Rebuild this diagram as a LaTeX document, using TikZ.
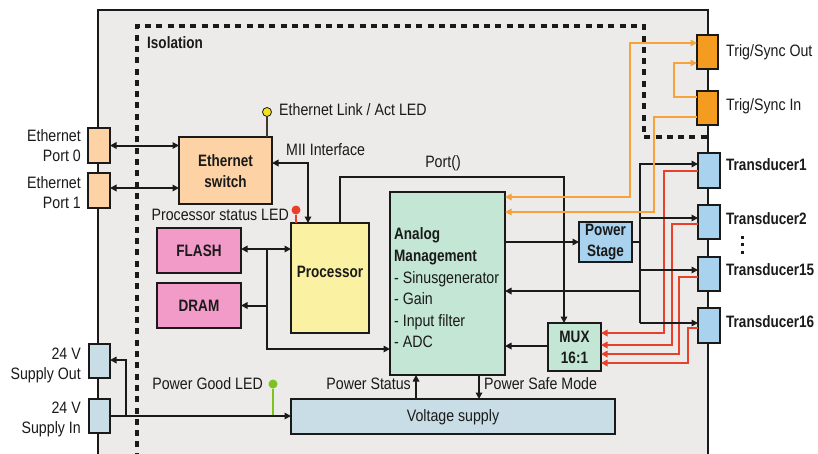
\documentclass[tikz,border=0pt]{standalone}
\usepackage{fontspec}
\setmainfont{Liberation Sans}[FakeStretch=0.86]
\newfontfamily\bfont{Liberation Sans}[FakeStretch=0.82]
\usetikzlibrary{arrows.meta}
\definecolor{bg}{HTML}{EDEBE9}
\definecolor{peach}{HTML}{FDD3A5}
\definecolor{trig}{HTML}{F39C1F}
\definecolor{tblue}{HTML}{A8D2EE}
\definecolor{sblue}{HTML}{C8DDE6}
\definecolor{pink}{HTML}{F29AC8}
\definecolor{pyellow}{HTML}{FAF2A2}
\definecolor{mint}{HTML}{C4E6D4}
\definecolor{oline}{HTML}{F5A33A}
\definecolor{rline}{HTML}{E8412B}
\definecolor{ledgreen}{HTML}{7DC31E}
\definecolor{ledyellow}{HTML}{F2E21A}
\definecolor{txt}{HTML}{1A1A1A}
\begin{document}
\begin{tikzpicture}[x=1pt,y=-1pt,
  >={Triangle[length=6.5pt,width=6.5pt]},
  box/.style={draw=txt, line width=2pt, inner sep=0pt, outer sep=0pt},
  lbl/.style={font=\fontsize{16.5}{20}\selectfont, inner sep=0pt, text=txt},
  blbl/.style={font=\bfont\bfseries\fontsize{16.5}{21}\selectfont, inner sep=0pt, text=txt, align=center},
  conn/.style={line width=2pt, draw=txt},
  oconn/.style={line width=2.2pt, draw=oline},
  rconn/.style={line width=2.3pt, draw=rline}]
\clip (0,0) rectangle (818,453);
\fill[white] (0,0) rectangle (818,453);
% main board
\fill[bg] (98,10) rectangle (708,470);
\draw[line width=2pt, txt] (98,470) -- (98,10) -- (708,10) -- (708,470);
% isolation
\draw[line width=3.5pt, dash pattern=on 6pt off 5.3pt, txt] (137,470) -- (137,26) -- (644,26) -- (644,137) -- (708,137);
\node[blbl, anchor=west] (iso) at (147,43) {Isolation};

% connector ports left
\node[box, fill=peach, minimum width=22pt, minimum height=35pt] (ep0) at (99,145.5) {};
\node[box, fill=peach, minimum width=22pt, minimum height=35pt] (ep1) at (99,190.5) {};
\node[lbl, anchor=east, align=right] (ep0l) at (81,145.5) {Ethernet\\Port 0};
\node[lbl, anchor=east, align=right] (ep1l) at (81,193) {Ethernet\\Port 1};
\node[box, fill=sblue, minimum width=21pt, minimum height=34pt] (so) at (99.5,361) {};
\node[box, fill=sblue, minimum width=21pt, minimum height=34pt] (si) at (99.5,416) {};
\node[lbl, anchor=east, align=right] (sol) at (81,365) {24 V\\Supply Out};
\node[lbl, anchor=east, align=right] (sil) at (81,419) {24 V\\Supply In};

% right connectors
\node[box, fill=trig, minimum width=21pt, minimum height=34pt] (tso) at (707.5,52) {};
\node[box, fill=trig, minimum width=21pt, minimum height=34pt] (tsi) at (707.5,108) {};
\node[lbl, anchor=west] (tsol) at (726,52) {Trig/Sync Out};
\node[lbl, anchor=west] (tsil) at (726,106) {Trig/Sync In};
\node[box, fill=tblue, minimum width=22pt, minimum height=35pt] (t1) at (709,170.5) {};
\node[box, fill=tblue, minimum width=22pt, minimum height=34pt] (t2) at (709,222) {};
\node[box, fill=tblue, minimum width=22pt, minimum height=34pt] (t15) at (709,274) {};
\node[box, fill=tblue, minimum width=22pt, minimum height=35pt] (t16) at (709,325.5) {};
\node[blbl, anchor=west] (t1l) at (726,165) {Transducer1};
\node[blbl, anchor=west] (t2l) at (726,219) {Transducer2};
\node[blbl, anchor=west] (t15l) at (726,270) {Transducer15};
\node[blbl, anchor=west] (t16l) at (726,322) {Transducer16};
\fill[txt] (740.5,235.5) rectangle +(3,3);
\fill[txt] (740.5,243) rectangle +(3,3);
\fill[txt] (740.5,251) rectangle +(3,3);

% blocks
\node[box, fill=peach, minimum width=93pt, minimum height=67pt] (sw) at (225.5,170.5) {};
\node[blbl] (swl) at (225.5,171) {Ethernet\\switch};
\node[box, fill=pyellow, minimum width=78pt, minimum height=110pt] (proc) at (330,278) {};
\node[blbl] (procl) at (330,272) {Processor};
\node[box, fill=pink, minimum width=84pt, minimum height=45pt] (flash) at (199,250.5) {};
\node[blbl] (flashl) at (199,250.5) {FLASH};
\node[box, fill=pink, minimum width=84pt, minimum height=45pt] (dram) at (199,305.5) {};
\node[blbl] (draml) at (199,305.5) {DRAM};
\node[box, fill=mint, minimum width=115pt, minimum height=183pt] (am) at (447.5,283.5) {};
\node[blbl, anchor=north west, align=left, font=\bfont\bfseries\fontsize{16.5}{22}\selectfont] (amt) at (394,227) {Analog\\Management};
\node[lbl, anchor=north west, align=left, font=\fontsize{16.5}{21.6}\selectfont] (aml) at (394,271) {- Sinusgenerator\\- Gain\\- Input filter\\- ADC};
\node[box, fill=tblue, minimum width=53pt, minimum height=40pt] (ps) at (605.5,242) {};
\node[blbl] (psl) at (605.5,242.5) {Power\\Stage};
\node[box, fill=mint, minimum width=53pt, minimum height=48pt] (mux) at (574.5,347) {};
\node[blbl] (muxl) at (574.5,347.5) {MUX\\16:1};
\node[box, fill=sblue, minimum width=324pt, minimum height=35pt] (vs) at (453,416.5) {};
\node[lbl] (vsl) at (453,417) {Voltage supply};

% LEDs
\node[circle, draw=txt, line width=0.8pt, fill=ledyellow, minimum size=9pt, inner sep=0pt] (ledE) at (267,112) {};
\draw[line width=1.6pt, draw=black!75!olive] (ledE.south) -- (ledE.south |- sw.north);
\node[lbl, anchor=west] (ledEl) at (279,110) {Ethernet Link / Act LED};
\node[circle, fill=rline, minimum size=9pt, inner sep=0pt] (ledP) at (296,210) {};
\draw[line width=2pt, rline] (ledP) -- (ledP |- proc.north);
\node[lbl, anchor=east] (ledPl) at (289,215) {Processor status LED};
\node[circle, fill=ledgreen, minimum size=9pt, inner sep=0pt] (ledG) at (273,384) {};
\draw[line width=2.2pt, ledgreen] (ledG) -- (ledG |- si.east);
\node[lbl, anchor=east] (ledGl) at (263,384) {Power Good LED};

% labels
\node[lbl, anchor=west] (miil) at (286,150) {MII Interface};
\node[lbl] (portl) at (443,163) {Port()};
\node[lbl, anchor=east] (pstl) at (411,384) {Power Status};
\node[lbl, anchor=west] (psml) at (484,384) {Power Safe Mode};

% red lines
\draw[rconn, ->] (t1.west |- 0,171) -| (664,333) -- (mux.east |- 0,333);
\draw[rconn, ->] (t2.west |- 0,224) -| (672,345) -- (mux.east |- 0,345);
\draw[rconn, ->] (t15.west |- 0,277) -| (679,354) -- (mux.east |- 0,354);
\draw[rconn, ->] (t16.west |- 0,328) -| (688,363) -- (mux.east |- 0,363);

% black connectors
\draw[conn, <->] (ep0.east) -- (sw.west |- ep0.east);
\draw[conn, <->] (ep1.east |- 0,188) -- (sw.west |- 0,188);
\draw[conn, <->] (sw.east |- 0,163) -| (308,0 |- proc.north);
\draw[conn, ->] (340,0 |- proc.north) |- (564,177) -- (564,0 |- mux.north);
\draw[conn, <->] (flash.east |- 0,249) -- (proc.west |- 0,249);
\draw[conn, ->] (267,249) |- (am.west |- 0,349);
\draw[conn, ->] (267,0 |- dram.east) -- (dram.east);
\draw[conn, ->] (am.east |- ps.west) -- (ps.west);
\draw[conn] (ps.east) -- (640,242);
\draw[conn, ->] (640,323) |- (t1.west |- 0,164);
\draw[conn, ->] (640,218) -- (t2.west |- 0,218);
\draw[conn, ->] (640,270) -- (t15.west |- 0,270);
\draw[conn, ->] (640,323) -- (t16.west |- 0,323);
\draw[conn, ->] (640,291) -- (am.east |- 0,291);
\draw[conn, ->] (mux.west |- 0,346) -- (am.east |- 0,346);
\draw[conn, ->] (si.east) -- (vs.west |- si.east);
\draw[conn, ->] (126,0 |- si.east) |- (so.east |- 0,360);
\draw[conn, ->] (416,0 |- vs.north) -- (416,0 |- am.south);
\draw[conn, ->] (479,0 |- am.south) -- (479,0 |- vs.north);

% orange lines
\draw[oconn, <->] (am.east |- 0,197) -| (630,43) -- (tso.west |- 0,43);
\draw[oconn, ->] (tsi.west |- 0,117) -| (654,212) -- (am.east |- 0,212);
\draw[oconn, ->] (tsi.west |- 0,97) -| (674,63) -- (tso.west |- 0,63);
\end{tikzpicture}
\end{document}
